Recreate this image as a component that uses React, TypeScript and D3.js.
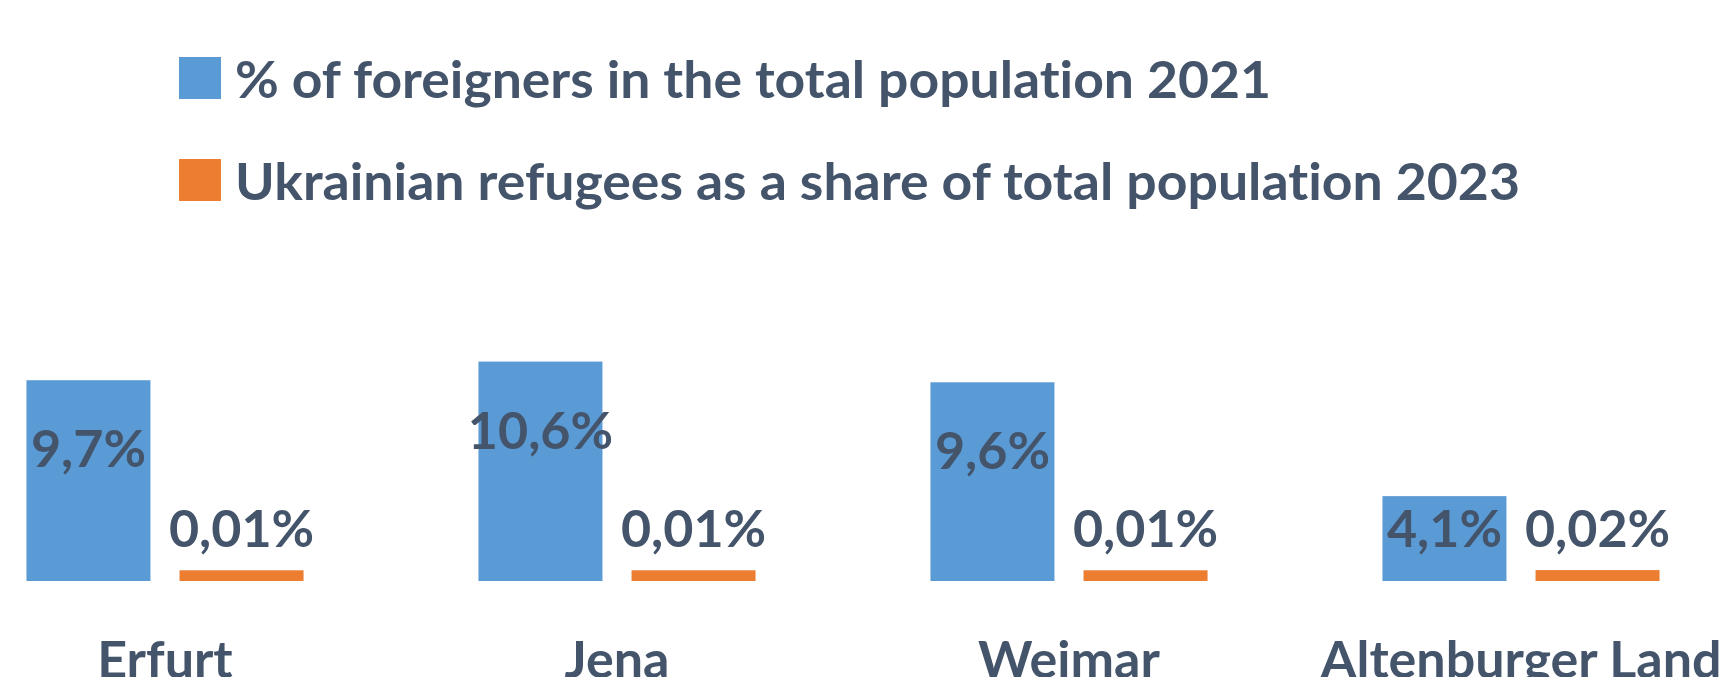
import React from "react";
import * as d3 from "d3";

const categories = ["Erfurt", "Jena", "Weimar", "Altenburger Land"];
const foreigners2021 = [9.7, 10.6, 9.6, 4.1];
const ukrainians2023 = [0.01, 0.01, 0.01, 0.02];
const foreignerLabels = ["9,7%", "10,6%", "9,6%", "4,1%"];
const ukrainianLabels = ["0,01%", "0,01%", "0,01%", "0,02%"];
const seriesNames = [
  "% of foreigners in the total population 2021",
  "Ukrainian refugees as a share of total population 2023",
];
const yDomain = [0, 12];

const W = 1730;
const H = 677;
const BLUE = "#5B9BD5";
const ORANGE = "#ED7D31";
const TEXT = "#44546A";
const FONT = "Lato, 'Open Sans', sans-serif";

export default function App() {
  const x0 = d3
    .scaleBand<string>()
    .domain(categories)
    .range([-61, 1747])
    .paddingInner(0.387)
    .paddingOuter(0.387 / 2);
  const x1 = d3
    .scaleBand<string>()
    .domain(["a", "b"])
    .range([0, x0.bandwidth()])
    .paddingInner(0.19);
  const y = d3.scaleLinear().domain(yDomain).range([581, 332.6]);
  const base = y(0);
  const thin = 10.5;

  return (
    <svg
      width={W}
      height={H}
      style={{
        position: "absolute",
        left: 0,
        top: 0,
        background: "#fff",
        fontVariantLigatures: "none",
        fontFeatureSettings: '"liga" 0, "clig" 0',
      }}
      fontFamily={FONT}
      fontWeight={700}
    >
      {/* legend */}
      <rect x={179} y={57} width={42} height={42} fill={BLUE} />
      <text x={235} y={98} fontSize={52} fill={TEXT} textLength={1036} lengthAdjust="spacingAndGlyphs">
        {seriesNames[0]}
      </text>
      <rect x={179} y={159} width={42} height={42} fill={ORANGE} />
      <text x={235} y={200} fontSize={52} fill={TEXT} textLength={1285} lengthAdjust="spacingAndGlyphs">
        {seriesNames[1]}
      </text>

      {categories.map((c, i) => {
        const gx = x0(c)!;
        const bx = gx + x1("a")!;
        const ox = gx + x1("b")!;
        const bw = x1.bandwidth();
        const v = foreigners2021[i];
        const u = ukrainians2023[i];
        const blueLabelY = Math.min(y(v) + 87, base - 34);
        return (
          <g key={c}>
            <rect x={bx} y={y(v)} width={bw} height={base - y(v)} fill={BLUE} />
            <rect x={ox} y={y(u) - thin} width={bw} height={base - y(u) + thin} fill={ORANGE} />
            <text x={bx + bw / 2} y={blueLabelY} textAnchor="middle" fontSize={52} fill={TEXT}>
              {foreignerLabels[i]}
            </text>
            <text x={ox + bw / 2} y={y(u) - thin - 23} textAnchor="middle" fontSize={52} fill={TEXT}>
              {ukrainianLabels[i]}
            </text>
            <text x={gx + x0.bandwidth() / 2} y={678} textAnchor="middle" fontSize={52} fill={TEXT}>
              {c}
            </text>
          </g>
        );
      })}
    </svg>
  );
}
